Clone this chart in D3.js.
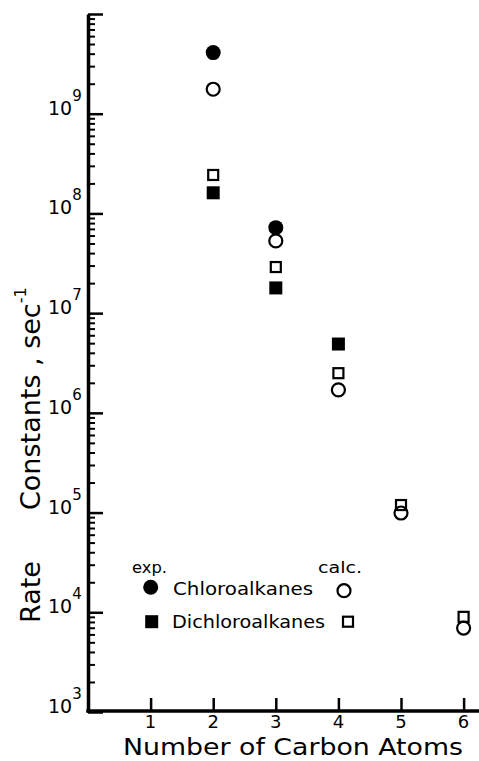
<!DOCTYPE html>
<html>
<head>
<meta charset="utf-8">
<script src="https://cdn.jsdelivr.net/npm/d3@7"></script>
<style>
    body { margin: 0; background: white; }
    svg { display: block; font-family: 'DejaVu Sans', sans-serif; }
</style>
</head>
<body>
<svg class="chart" width="479" height="761"></svg>
<script>
// Values: [number of carbon atoms, rate constant in 1/sec].
var chloroExp = [[2, 4.1e9], [3, 7.2e7]];
var chloroCalc = [[2, 1.76e9], [3, 5.3e7], [4, 1.7e6], [5, 9.9e4], [6, 6.95e3]];
var dichloroExp = [[2, 1.61e8], [3, 1.79e7], [4, 4.9e6]];
var dichloroCalc = [[2, 2.43e8], [3, 2.9e7], [4, 2.5e6], [5, 1.19e5], [6, 9.0e3]];

// Tick values and labels.
var carbonTicks = [1, 2, 3, 4, 5, 6];
var decadeExps = [3, 4, 5, 6, 7, 8, 9, 10];
var labelExps = [3, 4, 5, 6, 7, 8, 9];

var chart = d3.select('.chart');
var width = 479;

// Linear scale for carbon atoms, log scale for the rate constants.
var x = d3.scaleLinear().domain([0, 6]).range([88, 463.6]);
var y = d3.scaleLog().domain([1e3, 1e10]).range([712, 14]);

// Minor tick values: 2..9 times every decade below the top.
var minorTicks = [];
decadeExps.slice(0, -1).forEach(function(e) {
    for (var k = 2; k <= 9; k++) minorTicks.push(k * Math.pow(10, e));
});

// Y axis: major ticks pointing inwards, thick spine.
var yMajor = chart.append('g')
    .attr('class', 'y axis')
    .attr('transform', 'translate(' + x(0) + ',0)')
    .call(d3.axisRight(y)
        .tickValues(decadeExps.map(function(e) { return Math.pow(10, e); }))
        .tickSize(15).tickSizeOuter(0).tickFormat(''));
yMajor.select('.domain').attr('stroke', 'black').attr('stroke-width', 3.5);
yMajor.selectAll('.tick line').attr('stroke', 'black').attr('stroke-width', 2.5);

// Minor ticks on the y axis.
var yMinor = chart.append('g')
    .attr('class', 'y minor')
    .attr('transform', 'translate(' + x(0) + ',0)')
    .call(d3.axisRight(y).tickValues(minorTicks).tickSize(7).tickFormat(''));
yMinor.select('.domain').remove();
yMinor.selectAll('.tick line').attr('stroke', 'black').attr('stroke-width', 2);

// Decade labels, written as 10 with a raised exponent.
var yLabels = chart.append('g').selectAll('text').data(labelExps)
    .enter().append('text')
    .attr('x', 48)
    .attr('y', function(d) { return y(Math.pow(10, d)) + 1; })
    .style('font-size', '19px')
    .style('fill', 'black');
yLabels.append('tspan').text('10');
yLabels.append('tspan')
    .attr('dy', -14)
    .style('font-size', '15px')
    .text(function(d) { return d; });

// X axis: ticks pointing up, spine runs to the right edge.
var xAxis = chart.append('g')
    .attr('class', 'x axis')
    .attr('transform', 'translate(0,' + 711 + ')')
    .call(d3.axisTop(x).tickValues(carbonTicks).tickSize(13).tickSizeOuter(0).tickFormat(''));
xAxis.select('.domain').remove();
xAxis.selectAll('.tick line').attr('stroke', 'black').attr('stroke-width', 2.5);
chart.append('line')
    .attr('x1', x(0) - 1.7).attr('x2', width)
    .attr('y1', 711).attr('y2', 711)
    .attr('stroke', 'black').attr('stroke-width', 3.5);

// X tick labels below the spine.
chart.append('g').selectAll('text').data(carbonTicks)
    .enter().append('text')
    .attr('x', function(d) { return x(d); })
    .attr('y', 728)
    .style('text-anchor', 'middle')
    .style('font-size', '18px')
    .text(function(d) { return d; });

// Axis titles.
chart.append('text')
    .attr('x', 123).attr('y', 755)
    .attr('textLength', 340).attr('lengthAdjust', 'spacingAndGlyphs')
    .style('font-size', '23px')
    .text('Number of Carbon Atoms');

chart.append('text')
    .attr('transform', 'rotate(-90)')
    .attr('x', -623).attr('y', 40)
    .style('font-size', '27px')
    .text('Rate');
var yTitle = chart.append('text')
    .attr('transform', 'rotate(-90)')
    .attr('x', -510).attr('y', 40)
    .style('font-size', '27px');
yTitle.append('tspan').text('Constants , sec');
yTitle.append('tspan').attr('dy', -14).style('font-size', '16px').text('-1');

// Marker helpers: filled / open circles and squares.
var filledCircle = function(sel) {
    sel.attr('r', 7.5).attr('fill', 'black');
};
var openCircle = function(sel) {
    sel.attr('r', 6.5).attr('fill', 'none').attr('stroke', 'black').attr('stroke-width', 2.2);
};
var filledSquare = function(sel) {
    sel.attr('width', 13).attr('height', 13)
        .attr('transform', 'translate(-6.5,-6.5)')
        .attr('fill', 'black');
};
var openSquare = function(sel) {
    sel.attr('width', 10).attr('height', 10)
        .attr('transform', 'translate(-5,-5)')
        .attr('fill', 'none').attr('stroke', 'black').attr('stroke-width', 2.2);
};

// Data points.
chart.append('g').selectAll('rect').data(dichloroCalc)
    .enter().append('rect')
    .attr('x', function(d) { return x(d[0]); })
    .attr('y', function(d) { return y(d[1]); })
    .call(openSquare);
chart.append('g').selectAll('rect').data(dichloroExp)
    .enter().append('rect')
    .attr('x', function(d) { return x(d[0]); })
    .attr('y', function(d) { return y(d[1]); })
    .call(filledSquare);
chart.append('g').selectAll('circle').data(chloroCalc)
    .enter().append('circle')
    .attr('cx', function(d) { return x(d[0]); })
    .attr('cy', function(d) { return y(d[1]); })
    .call(openCircle);
chart.append('g').selectAll('circle').data(chloroExp)
    .enter().append('circle')
    .attr('cx', function(d) { return x(d[0]); })
    .attr('cy', function(d) { return y(d[1]); })
    .call(filledCircle);

// Legend.
var legend = chart.append('g').attr('class', 'legend');
legend.append('text').attr('x', 132).attr('y', 573)
    .attr('textLength', 35).attr('lengthAdjust', 'spacingAndGlyphs')
    .style('font-size', '16px').text('exp.');
legend.append('text').attr('x', 318).attr('y', 573)
    .attr('textLength', 44).attr('lengthAdjust', 'spacingAndGlyphs')
    .style('font-size', '16px').text('calc.');
legend.append('circle').attr('cx', 150.7).attr('cy', 587.3).call(filledCircle);
legend.append('text').attr('x', 173).attr('y', 595)
    .attr('textLength', 140).attr('lengthAdjust', 'spacingAndGlyphs')
    .style('font-size', '18px').text('Chloroalkanes');
legend.append('circle').attr('cx', 344).attr('cy', 590.7).call(openCircle);
legend.append('rect').attr('x', 151.7).attr('y', 621.7).call(filledSquare);
legend.append('text').attr('x', 172).attr('y', 628)
    .attr('textLength', 153).attr('lengthAdjust', 'spacingAndGlyphs')
    .style('font-size', '18px').text('Dichloroalkanes');
legend.append('rect').attr('x', 348).attr('y', 621.7).call(openSquare);
</script>
</body>
</html>
